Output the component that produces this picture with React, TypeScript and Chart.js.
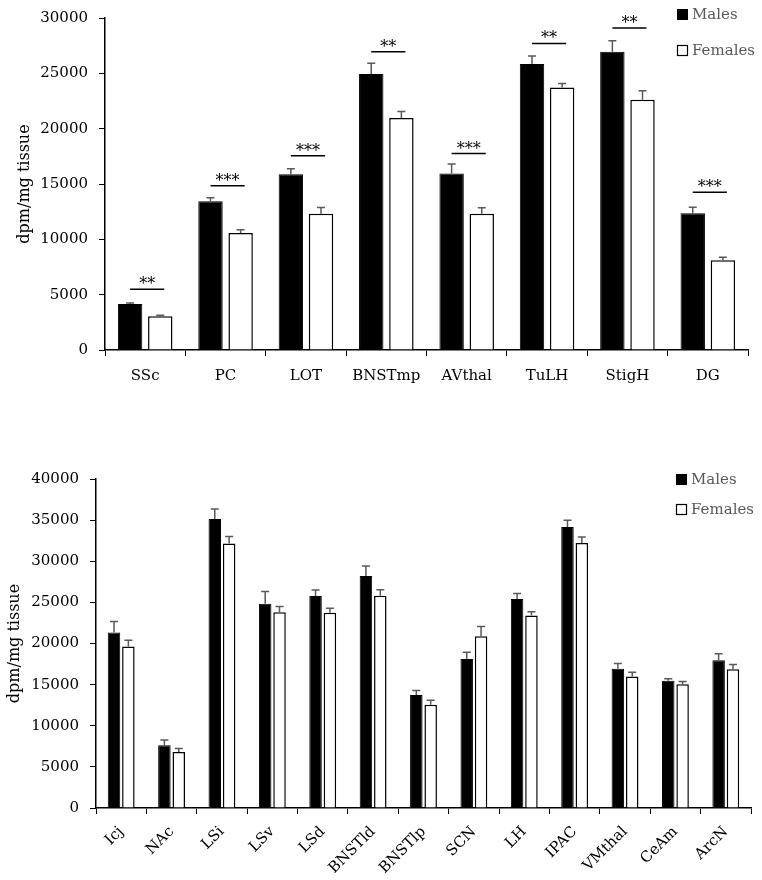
import React, { useEffect, useRef } from "react";
import { Chart, registerables } from "chart.js";

Chart.register(...registerables);

// ---------- Top panel data ----------
const topCategories = ["SSc", "PC", "LOT", "BNSTmp", "AVthal", "TuLH", "StigH", "DG"];
const topMales = [4150, 13450, 15880, 24950, 15950, 25850, 26950, 12350];
const topMalesErr = [100, 300, 500, 950, 850, 720, 990, 540];
const topFemales = [3050, 10570, 12310, 20960, 12310, 23720, 22610, 8100];
const topFemalesErr = [90, 300, 570, 600, 540, 360, 810, 270];
const topSigLabels = ["**", "***", "***", "**", "***", "**", "**", "***"];
const topSigLevels = [5500, 14850, 17550, 26950, 17750, 27700, 29100, 14250];
const topYMax = 30000;

// ---------- Bottom panel data ----------
const bottomCategories = ["Icj", "NAc", "LSi", "LSv", "LSd", "BNSTld", "BNSTlp", "SCN", "LH", "IPAC", "VMthal", "CeAm", "ArcN"];
const bottomMales = [21340, 7630, 35130, 24830, 25760, 28200, 13750, 18130, 25400, 34160, 16920, 15460, 17970];
const bottomMalesErr = [1330, 650, 1220, 1500, 730, 1210, 530, 820, 680, 810, 650, 240, 770];
const bottomFemales = [19630, 6820, 32170, 23810, 23730, 25800, 12540, 20890, 23400, 32210, 15980, 15050, 16880];
const bottomFemalesErr = [770, 400, 850, 690, 570, 730, 570, 1180, 450, 730, 530, 320, 560];
const bottomYMax = 40000;

const yTitle = "dpm/mg tissue";
const seriesNames = ["Males", "Females"];
const yStep = 5000;

const FONT = "'DejaVu Serif', serif";

type PanelProps = {
  top: number;
  height: number;
  categories: string[];
  males: number[];
  malesErr: number[];
  females: number[];
  femalesErr: number[];
  yMax: number;
  sigLabels?: string[];
  sigLevels?: number[];
  layout: {
    padTop: number;
    padRight: number;
    yWidth: number;
    xHeight: number;
    titlePad: number;
    catPct: number;
    barPct: number;
    rotate: number;
    xPad: number;
    legendDx: number;
    legendDy: number;
    legendGap: number;
  };
};

function Panel(p: PanelProps) {
  const ref = useRef<HTMLCanvasElement | null>(null);

  useEffect(() => {
    const canvas = ref.current;
    if (!canvas) return;
    const L = p.layout;

    const errPlugin = {
      id: "errAndSig",
      afterDatasetsDraw(chart: any) {
        const ctx = chart.ctx;
        const ys = chart.scales.y;
        const errs = [p.malesErr, p.femalesErr];
        ctx.save();
        ctx.strokeStyle = "#595959";
        ctx.lineWidth = 1.5;
        [0, 1].forEach((di) => {
          const meta = chart.getDatasetMeta(di);
          const vals = chart.data.datasets[di].data as number[];
          meta.data.forEach((el: any, i: number) => {
            const yt = ys.getPixelForValue(vals[i] + errs[di][i]);
            ctx.beginPath();
            ctx.moveTo(el.x, el.y);
            ctx.lineTo(el.x, yt);
            ctx.moveTo(el.x - 4, yt);
            ctx.lineTo(el.x + 4, yt);
            ctx.stroke();
          });
        });
        if (p.sigLabels && p.sigLevels) {
          const m0 = chart.getDatasetMeta(0).data;
          const m1 = chart.getDatasetMeta(1).data;
          ctx.strokeStyle = "#000";
          ctx.fillStyle = "#000";
          ctx.lineWidth = 1.5;
          ctx.font = "16px " + FONT;
          ctx.textAlign = "center";
          ctx.textBaseline = "alphabetic";
          p.sigLabels.forEach((lab, i) => {
            const y = ys.getPixelForValue(p.sigLevels![i]);
            const x1 = m0[i].x;
            const x2 = m1[i].x + 4;
            ctx.beginPath();
            ctx.moveTo(x1, y);
            ctx.lineTo(x2, y);
            ctx.stroke();
            ctx.fillText(lab, (x1 + x2) / 2, y);
          });
        }
        // legend
        const ca = chart.chartArea;
        const lx = ca.right + L.legendDx;
        const ly = ca.top + L.legendDy;
        ctx.fillStyle = "#000";
        ctx.fillRect(lx, ly, 11, 11);
        ctx.fillStyle = "#fff";
        ctx.strokeStyle = "#000";
        ctx.lineWidth = 1.2;
        ctx.fillRect(lx + 0.5, ly + L.legendGap + 0.5, 10, 10);
        ctx.strokeRect(lx + 0.5, ly + L.legendGap + 0.5, 10, 10);
        ctx.fillStyle = "#595959";
        ctx.font = "15px " + FONT;
        ctx.textAlign = "left";
        ctx.textBaseline = "middle";
        ctx.fillText(seriesNames[0], lx + 15, ly + 6);
        ctx.fillText(seriesNames[1], lx + 15, ly + L.legendGap + 6);
        ctx.restore();
      },
    };

    const chart = new Chart(canvas, {
      type: "bar",
      data: {
        labels: p.categories,
        datasets: [
          {
            label: seriesNames[0],
            data: p.males,
            backgroundColor: "#000",
            borderColor: "#000",
            borderWidth: 1,
            categoryPercentage: L.catPct,
            barPercentage: L.barPct,
          },
          {
            label: seriesNames[1],
            data: p.females,
            backgroundColor: "#fff",
            borderColor: "#000",
            borderWidth: 1.5,
            categoryPercentage: L.catPct,
            barPercentage: L.barPct,
          },
        ],
      },
      options: {
        responsive: false,
        animation: false,
        events: [],
        layout: { padding: { top: L.padTop, right: L.padRight, bottom: 0, left: 0 } },
        plugins: {
          legend: { display: false },
          tooltip: { enabled: false },
        },
        scales: {
          x: {
            afterFit: (s: any) => {
              s.height = L.xHeight;
            },
            grid: {
              display: true,
              drawOnChartArea: false,
              drawTicks: true,
              tickLength: 6,
              color: "#000",
              lineWidth: 1,
              offset: true,
            },
            border: { display: true, color: "#000", width: 1.5 },
            ticks: {
              color: "#000",
              font: { family: FONT, size: 15 },
              padding: L.xPad,
              minRotation: L.rotate,
              maxRotation: L.rotate,
              autoSkip: false,
            },
          },
          y: {
            min: 0,
            max: p.yMax,
            afterFit: (s: any) => {
              s.width = L.yWidth;
            },
            grid: {
              display: true,
              drawOnChartArea: false,
              drawTicks: true,
              tickLength: 6,
              color: "#000",
            },
            border: { display: true, color: "#000", width: 1.5 },
            ticks: {
              stepSize: yStep,
              color: "#000",
              font: { family: FONT, size: 15 },
              padding: 11,
              callback: (v: any) => String(v),
            },
            title: {
              display: true,
              text: yTitle,
              color: "#000",
              font: { family: FONT, size: 16 },
              padding: { top: L.titlePad, bottom: 0 },
            },
          },
        },
      },
      plugins: [errPlugin],
    } as any);

    return () => chart.destroy();
  }, []);

  return (
    <canvas
      ref={ref}
      width={762}
      height={p.height}
      style={{ position: "absolute", left: 0, top: p.top, width: 762, height: p.height }}
    />
  );
}

export default function App() {
  return (
    <div style={{ position: "absolute", left: 0, top: 0, width: 762, height: 880, background: "#fff", overflow: "hidden" }}>
      <Panel
        top={-2}
        height={402}
        categories={topCategories}
        males={topMales}
        malesErr={topMalesErr}
        females={topFemales}
        femalesErr={topFemalesErr}
        yMax={topYMax}
        sigLabels={topSigLabels}
        sigLevels={topSigLevels}
        layout={{
          padTop: 15,
          padRight: 14,
          yWidth: 105,
          xHeight: 50,
          titlePad: 15,
          catPct: 0.75,
          barPct: 0.81,
          rotate: 0,
          xPad: 11,
          legendDx: -71,
          legendDy: -9,
          legendGap: 36,
        }}
      />
      <Panel
        top={420}
        height={460}
        categories={bottomCategories}
        males={bottomMales}
        malesErr={bottomMalesErr}
        females={bottomFemales}
        femalesErr={bottomFemalesErr}
        yMax={bottomYMax}
        layout={{
          padTop: 59,
          padRight: 11,
          yWidth: 96,
          xHeight: 72,
          titlePad: 5,
          catPct: 0.57,
          barPct: 0.87,
          rotate: 45,
          xPad: 9,
          legendDx: -75,
          legendDy: -5,
          legendGap: 30,
        }}
      />
    </div>
  );
}
